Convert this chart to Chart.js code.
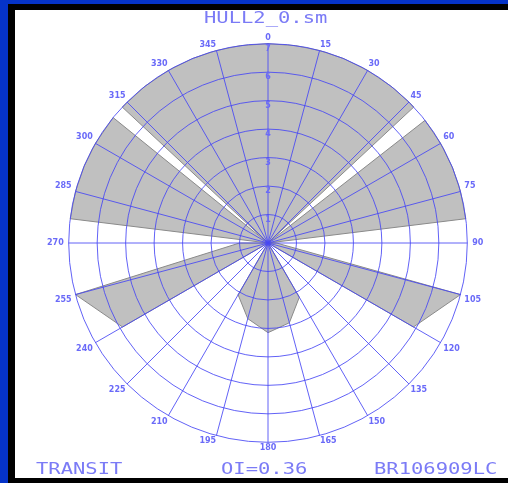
<!DOCTYPE html>
<html>
<head>
<meta charset="utf-8">
<script src="https://cdn.jsdelivr.net/npm/chart.js@4.4.1/dist/chart.umd.min.js"></script>
<style>
  html, body { margin: 0; padding: 0; width: 508px; height: 483px; overflow: hidden; background: #0533c8; }
  #shadow { position: absolute; left: 8px; top: 4px; width: 500px; height: 479px; background: #000; }
  #panel { position: absolute; left: 15px; top: 10px; width: 493px; height: 468px; background: #fff; }
  .txt { position: absolute; font: 16px "DejaVu Sans Mono", monospace; line-height: 16px; color: #7b7bf6;
         white-space: nowrap; transform: scaleX(1.28); transform-origin: 0 0; }
  #wrap { position: absolute; left: 45px; top: 23px; width: 442px; height: 442px; }
</style>
</head>
<body>
<div id="shadow"></div>
<div id="panel"></div>
<div id="wrap"><canvas id="polar" width="442" height="442"></canvas></div>
<div class="txt" style="left:204px; top:10px;">HULL2_0.sm</div>
<div class="txt" style="left:36px; top:461px;">TRANSIT</div>
<div class="txt" style="left:221px; top:461px;">OI=0.36</div>
<div class="txt" style="left:374px; top:461px;">BR106909LC</div>
<script>
// Heading axis: one slot per degree, labelled every 15 degrees.
const HEADINGS = Array.from({ length: 360 }, (_, i) => i);
const LABEL_STEP = 15;
const SPEED_MAX = 7;

// Limited (grey) regions, each outlined by heading (deg) and speed pairs.
const bowHeadings      = [312, 313, 322, 330, 338, 345, 352, 0, 8, 15, 22, 30, 38, 45, 47, 48];
const bowSpeeds        = [0,   7,   7,   7,   7,   7,   7,   7, 7, 7,  7,  7,  7,  7,  7,  0];

const stbdBowHeadings  = [51, 52, 60, 68, 75, 83, 84];
const stbdBowSpeeds    = [0,  7,  7,  7,  7,  7,  0];

const stbdBeamHeadings = [90,  105, 120, 135];
const stbdBeamSpeeds   = [0.3, 7,   5.9, 0];

const sternHeadings    = [135, 150, 165, 180,  195,  210, 225];
const sternSpeeds      = [0,   2.2, 2.9, 3.15, 2.75, 2.1, 0];

const portBeamHeadings = [225, 240, 255, 270];
const portBeamSpeeds   = [0,   5.9, 7,   1.0];

const portBowHeadings  = [276, 277, 285, 293, 300, 309, 310];
const portBowSpeeds    = [0,   7,   7,   7,   7,   7,   0];

const GRID_BLUE = 'rgba(70, 70, 245, 0.85)';
const TEXT_BLUE = '#6a6af8';

function lobeSeries(headings, speeds) {
  const row = HEADINGS.map(() => null);
  headings.forEach((h, i) => { row[h] = speeds[i]; });
  return row;
}

function lobe(headings, speeds) {
  return {
    data: lobeSeries(headings, speeds),
    fill: 'origin',
    spanGaps: true,
    tension: 0,
    backgroundColor: '#c0c0c0',
    borderColor: '#8a8a8a',
    borderWidth: 1,
    pointRadius: 0,
    pointHoverRadius: 0
  };
}

new Chart(document.getElementById('polar'), {
  type: 'radar',
  data: {
    labels: HEADINGS,
    datasets: [
      lobe(bowHeadings, bowSpeeds),
      lobe(stbdBowHeadings, stbdBowSpeeds),
      lobe(stbdBeamHeadings, stbdBeamSpeeds),
      lobe(sternHeadings, sternSpeeds),
      lobe(portBeamHeadings, portBeamSpeeds),
      lobe(portBowHeadings, portBowSpeeds)
    ]
  },
  options: {
    responsive: false,
    animation: false,
    devicePixelRatio: 1,
    plugins: { legend: { display: false }, tooltip: { enabled: false } },
    scales: {
      r: {
        min: 0,
        max: SPEED_MAX,
        startAngle: 0,
        grid: { z: 1, circular: true, color: GRID_BLUE, lineWidth: 1 },
        angleLines: {
          display: true,
          color: (ctx) => (ctx.index % LABEL_STEP === 0 ? GRID_BLUE : 'rgba(0,0,0,0)'),
          lineWidth: (ctx) => (ctx.index % LABEL_STEP === 0 ? 1 : 0)
        },
        pointLabels: {
          // labels sit a little closer to the rim at top and bottom
          padding: (ctx) => 1 - 4 * Math.abs(Math.cos(ctx.index * Math.PI / 180)),
          color: TEXT_BLUE,
          font: { family: 'DejaVu Sans', size: 8, weight: 'bold' },
          callback: (label, index) => (index % LABEL_STEP === 0 ? String(label) : '')
        },
        ticks: {
          z: 1,
          stepSize: 1,
          showLabelBackdrop: false,
          backdropPadding: 0,
          color: TEXT_BLUE,
          font: { family: 'DejaVu Sans', size: 8, weight: 'bold', lineHeight: '5px' },
          callback: (v) => ['', String(v)]
        }
      }
    }
  }
});
</script>
</body>
</html>
